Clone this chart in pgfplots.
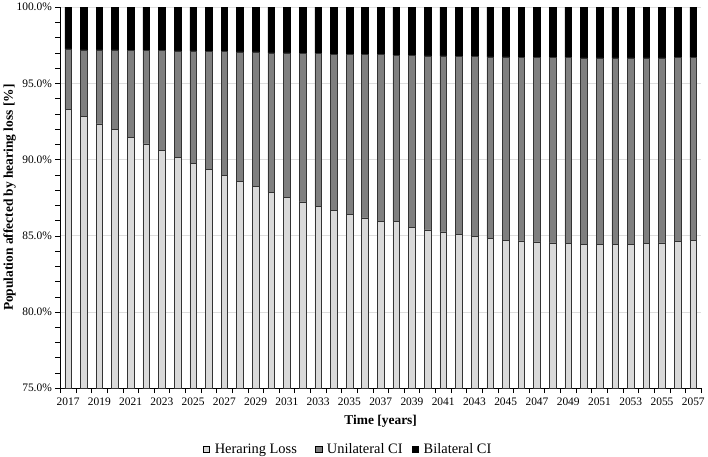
\documentclass[border=0pt]{standalone}
\usepackage{fontspec}
\setmainfont{Liberation Serif}
\usepackage{pgfplots}
\usepackage{pgfplotstable}
\pgfplotsset{compat=1.18}
\definecolor{hlc}{HTML}{D9D9D9}
\definecolor{unic}{HTML}{7F7F7F}
\definecolor{gridc}{HTML}{DDDDDD}
\pgfplotstableread{
year hl uni bi
2017 93.30 3.96 2.74
2018 92.82 4.38 2.80
2019 92.35 4.85 2.80
2020 91.96 5.24 2.80
2021 91.45 5.70 2.85
2022 91.04 6.11 2.85
2023 90.59 6.56 2.85
2024 90.17 6.96 2.87
2025 89.74 7.39 2.87
2026 89.35 7.73 2.92
2027 88.98 8.10 2.92
2028 88.56 8.50 2.94
2029 88.24 8.82 2.94
2030 87.85 9.15 3.00
2031 87.54 9.46 3.00
2032 87.23 9.72 3.05
2033 86.95 10.00 3.05
2034 86.65 10.26 3.09
2035 86.41 10.50 3.09
2036 86.17 10.72 3.11
2037 85.96 10.93 3.11
2038 85.94 10.91 3.15
2039 85.56 11.29 3.15
2040 85.39 11.41 3.20
2041 85.26 11.54 3.20
2042 85.08 11.68 3.24
2043 84.98 11.78 3.24
2044 84.85 11.89 3.26
2045 84.72 12.02 3.26
2046 84.67 12.05 3.28
2047 84.61 12.08 3.31
2048 84.54 12.15 3.31
2049 84.52 12.17 3.31
2050 84.46 12.21 3.33
2051 84.46 12.21 3.33
2052 84.46 12.21 3.33
2053 84.46 12.21 3.33
2054 84.52 12.15 3.33
2055 84.54 12.13 3.33
2056 84.65 12.04 3.31
2057 84.72 11.97 3.31
}\datatable
\begin{document}
\begin{tikzpicture}
\begin{axis}[
  scale only axis,
  width=644bp, height=383bp,
  ybar stacked,
  bar width=6.7bp,
  xmin=2016.5, xmax=2057.5,
  ymin=75, ymax=100,
  xtick={2017,2019,...,2057},
  minor xtick={2016.5,2017.5,...,2057.5},
  ytick={75,80,...,100},
  minor ytick={76,77,78,79,81,82,83,84,86,87,88,89,91,92,93,94,96,97,98,99},
  tick align=outside,
  major x tick style={draw=none},
  major tick length=5bp,
  minor tick length=5bp,
  tick style={black, line width=0.6pt},
  ymajorgrids,
  grid style={gridc, line width=0.8pt},
  axis x line*=bottom,
  axis y line*=left,
  axis line style={black, line width=0.8pt},
  x tick label style={font=\fontsize{11.5bp}{13bp}\selectfont, yshift=-1bp},
  y tick label style={font=\fontsize{11.5bp}{13bp}\selectfont, xshift=0bp},
  /pgf/number format/assume math mode=true,
  xticklabel={\pgfmathprintnumber[1000 sep={}]{\tick}},
  yticklabel={\pgfmathprintnumber[fixed,fixed zerofill,precision=1]{\tick}\%},
  xlabel={\textbf{Time [years]}},
  ylabel={\textbf{Population affected by hearing loss [\%]}},
  xlabel style={font=\fontsize{13.5bp}{15bp}\selectfont, yshift=-3bp},
  ylabel style={font=\fontsize{13.5bp}{15bp}\selectfont, yshift=-6bp},
  legend style={draw=none, at={(0.449,-0.16)}, anchor=center, legend columns=3,
    font=\fontsize{14.5bp}{16bp}\selectfont, inner sep=0pt,
    /tikz/column 1/.style={column sep=3bp},
    /tikz/column 3/.style={column sep=3bp},
    /tikz/column 5/.style={column sep=3bp},
    /tikz/column 2/.style={column sep=16bp},
    /tikz/column 4/.style={column sep=7bp}},
  legend image code/.code={\draw[#1, draw=black, line width=0.4pt] (0bp,-3.4bp) rectangle (6.8bp,3.4bp);},
  legend cell align=left,
]
\addplot[fill=hlc, draw=black!80, line width=0.5pt] table[x=year, y=hl] {\datatable};
\addplot[fill=unic, draw=black!80, line width=0.5pt] table[x=year, y=uni] {\datatable};
\addplot[fill=black, draw=black, line width=0.5pt] table[x=year, y=bi] {\datatable};
\legend{Heraring Loss, Unilateral CI, Bilateral CI}
\end{axis}
\end{tikzpicture}
\end{document}
